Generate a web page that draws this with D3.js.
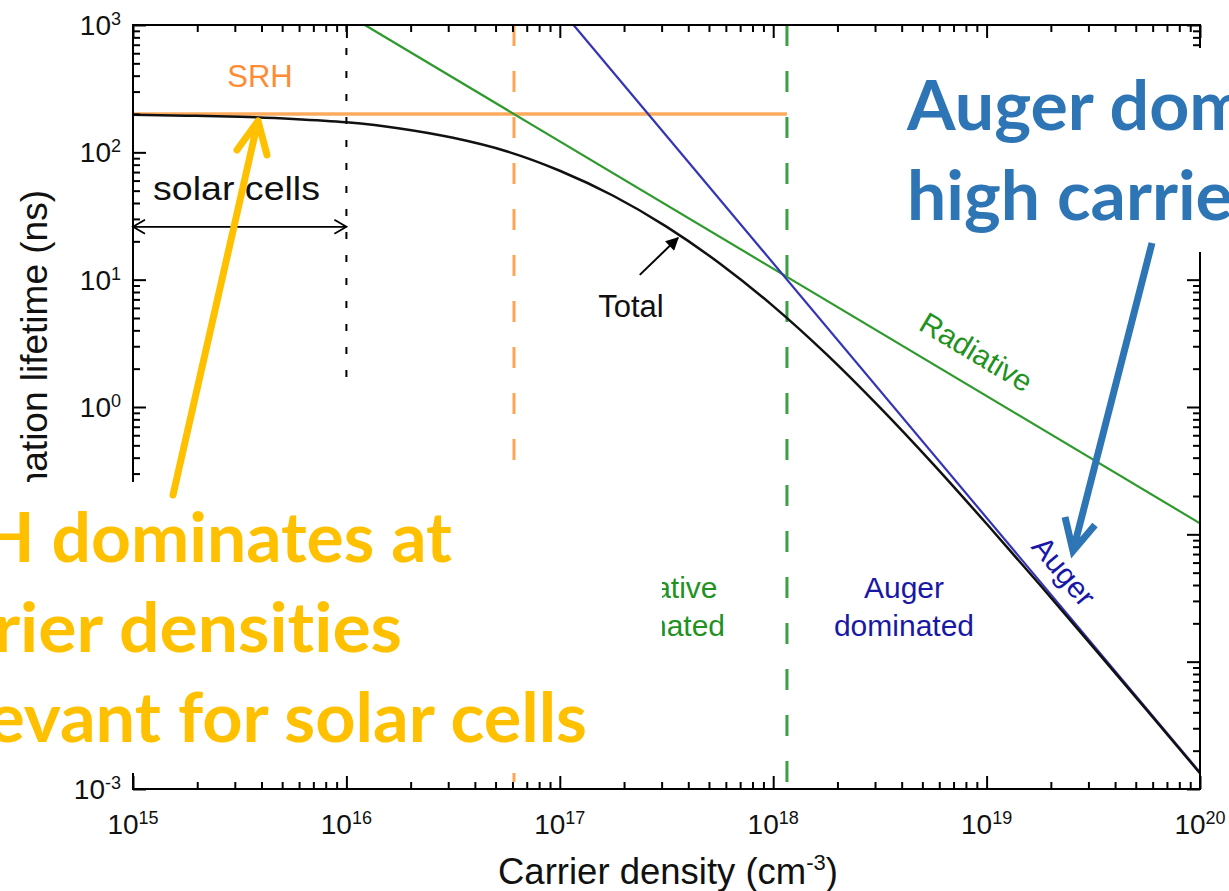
<!DOCTYPE html>
<html>
<head>
<meta charset="utf-8">
<script src="https://d3js.org/d3.v7.min.js"></script>
<style>
  body { margin: 0; background: #fff; overflow: hidden; }
  svg { display: block; }
  .axis line { stroke: #000; stroke-width: 2; }
  .axis .domain { display: none; }
  .lbl { font-family: "Liberation Sans", Arial, Helvetica, sans-serif; }
  .big { font-family: Lato, "Open Sans", sans-serif; font-weight: 700; font-variant-ligatures: none; }
</style>
</head>
<body>
<script>
// ---- values ----
var xDecades = [1e15, 1e16, 1e17, 1e18, 1e19, 1e20];
var xPowers  = ["15", "16", "17", "18", "19", "20"];
var yDecades = [1e-3, 1e-2, 1e-1, 1e0, 1e1, 1e2, 1e3];
var yPowers  = ["-3", "-2", "-1", "0", "1", "2", "3"];

// lifetimes in ns vs carrier density in cm^-3
var srhDensity = [1e15, 1.16e18];
var srhLifetime = [200, 200];
var radDensity = [1.22e16, 1e20];
var radLifetime = [1000, 0.122];
var augerDensity = [1.16e17, 1e20];
var augerLifetime = [1000, 0.00135];
var totalDensity = [1e15, 1.78e15, 3.16e15, 5.62e15, 1e16, 1.78e16, 3.16e16, 5.62e16,
  1e17, 1.78e17, 3.16e17, 5.62e17, 1e18, 1.78e18, 3.16e18, 5.62e18,
  1e19, 1.78e19, 3.16e19, 5.62e19, 1e20];
var totalLifetime = [197, 194, 190, 183, 172, 154, 130, 102,
  71.7, 45.6, 26.1, 13.4, 6.2, 2.59, 0.993, 0.356,
  0.121, 0.040, 0.0130, 0.00418, 0.00133];

// regime boundaries
var srhRadCross = 6.1e16;     // orange dashed
var radAugerCross = 1.16e18;  // green dashed
var solarLimit = 1e16;        // black dotted
var solarLimitLow = 1.5;      // dotted line stops here (ns)
var solarArrowLifetime = 26;
var totalPointer = [[2.37e17, 10.9], [3.58e17, 21.3]];

// ---- layout ----
var W = 1229, H = 891;
var L = 133, R = 1200, T = 25, B = 789;

var svg = d3.select("body").append("svg")
  .attr("width", W).attr("height", H);

var x = d3.scaleLog().domain([1e15, 1e20]).range([L, R]);
var y = d3.scaleLog().domain([1e-3, 1e3]).range([B, T]);

var defs = svg.append("defs");
defs.append("marker").attr("id", "tri")
  .attr("viewBox", "0 0 10 10").attr("refX", 9).attr("refY", 5)
  .attr("markerUnits", "userSpaceOnUse").attr("orient", "auto")
  .attr("markerWidth", 20).attr("markerHeight", 13)
  .append("path").attr("d", "M0,0 L10,5 L0,10 z").attr("fill", "#000");

var line = d3.line().x(function(d) { return x(d[0]); }).y(function(d) { return y(d[1]); });
function pairs(a, b) { return a.map(function(v, i) { return [v, b[i]]; }); }

// boundary lines
svg.append("line")
  .attr("x1", x(srhRadCross)).attr("x2", x(srhRadCross)).attr("y1", y(1e3)).attr("y2", y(1e-3))
  .attr("stroke", "#ffa552").attr("stroke-width", 3).attr("stroke-dasharray", "21,25");
svg.append("line")
  .attr("x1", x(radAugerCross)).attr("x2", x(radAugerCross)).attr("y1", y(1e3)).attr("y2", y(1e-3))
  .attr("stroke", "#3aa043").attr("stroke-width", 3).attr("stroke-dasharray", "21,25");
svg.append("line")
  .attr("x1", x(solarLimit)).attr("x2", x(solarLimit)).attr("y1", y(1e3)).attr("y2", y(solarLimitLow))
  .attr("stroke", "#000").attr("stroke-width", 2).attr("stroke-dasharray", "7,16");

// curves
svg.append("path").datum(pairs(srhDensity, srhLifetime)).attr("d", line)
  .attr("fill", "none").attr("stroke", "#ffab5e").attr("stroke-width", 3.5);
svg.append("path").datum(pairs(radDensity, radLifetime)).attr("d", line)
  .attr("fill", "none").attr("stroke", "#2e9a2e").attr("stroke-width", 2.2);
svg.append("path").datum(pairs(augerDensity, augerLifetime)).attr("d", line)
  .attr("fill", "none").attr("stroke", "#3434b4").attr("stroke-width", 2.2);
svg.append("path").datum(pairs(totalDensity, totalLifetime))
  .attr("d", line.curve(d3.curveMonotoneX))
  .attr("fill", "none").attr("stroke", "#111").attr("stroke-width", 2.5);
line.curve(d3.curveLinear);

// axes (ticks inward on all four sides)
var xMinor = x.ticks().filter(function(v) { return xDecades.indexOf(v) < 0; });
var yMinor = y.ticks().filter(function(v) {
  return yDecades.filter(function(d) { return Math.abs(d - v) / d < 1e-9; }).length === 0;
});

[
  [d3.axisBottom, "translate(0," + B + ")", x, xDecades, xMinor],
  [d3.axisTop, "translate(0," + T + ")", x, xDecades, xMinor],
  [d3.axisLeft, "translate(" + L + ",0)", y, yDecades, yMinor],
  [d3.axisRight, "translate(" + R + ",0)", y, yDecades, yMinor]
].forEach(function(a) {
  svg.append("g").attr("class", "axis").attr("transform", a[1])
    .call(a[0](a[2]).tickValues(a[3]).tickSize(-13).tickSizeOuter(0).tickFormat(""));
  svg.append("g").attr("class", "axis").attr("transform", a[1])
    .call(a[0](a[2]).tickValues(a[4]).tickSize(-7).tickSizeOuter(0).tickFormat(""));
});
svg.append("rect").attr("x", L).attr("y", T).attr("width", R - L).attr("height", B - T)
  .attr("fill", "none").attr("stroke", "#000").attr("stroke-width", 2);

// tick labels
svg.append("g").attr("class", "lbl").selectAll("text").data(xDecades).join("text")
  .attr("x", function(d) { return x(d); }).attr("y", 834)
  .attr("text-anchor", "middle").attr("font-size", 28).attr("fill", "#111")
  .each(function(d, i) {
    var t = d3.select(this);
    t.append("tspan").text("10");
    t.append("tspan").attr("dy", -10).attr("font-size", 18).text(xPowers[i]);
  });
svg.append("g").attr("class", "lbl").selectAll("text").data(yDecades).join("text")
  .attr("x", 121).attr("y", function(d) { return y(d) + 10; })
  .attr("text-anchor", "end").attr("font-size", 28).attr("fill", "#111")
  .each(function(d, i) {
    var t = d3.select(this);
    t.append("tspan").text("10");
    t.append("tspan").attr("dy", -10).attr("font-size", 18).text(yPowers[i]);
  });

// axis titles
var xt = svg.append("text").attr("class", "lbl")
  .attr("x", 668).attr("y", 884).attr("text-anchor", "middle")
  .attr("font-size", 36.5).attr("fill", "#111");
xt.append("tspan").text("Carrier density (cm");
xt.append("tspan").attr("dy", -14).attr("font-size", 22).text("-3");
xt.append("tspan").attr("dy", 14).text(")");

svg.append("text").attr("class", "lbl")
  .attr("transform", "translate(47,190) rotate(-90)")
  .attr("text-anchor", "end").attr("font-size", 37).attr("fill", "#111")
  .text("Recombination lifetime (ns)");

// in-chart labels
svg.append("text").attr("class", "lbl").attr("x", 260).attr("y", 87)
  .attr("text-anchor", "middle").attr("font-size", 31).attr("fill", "#ff8c35").text("SRH");

svg.append("text").attr("class", "lbl").attr("x", 153).attr("y", 200)
  .attr("font-size", 34).attr("fill", "#111")
  .attr("textLength", 167).attr("lengthAdjust", "spacingAndGlyphs").text("solar cells");

var ya = y(solarArrowLifetime), xa0 = x(1e15), xa1 = x(solarLimit);
svg.append("line").attr("x1", xa0).attr("x2", xa1).attr("y1", ya).attr("y2", ya)
  .attr("stroke", "#000").attr("stroke-width", 1.8);
svg.append("path")
  .attr("d", "M" + (xa0 + 12) + "," + (ya - 7) + "L" + xa0 + "," + ya + "L" + (xa0 + 12) + "," + (ya + 7) +
             "M" + (xa1 - 12) + "," + (ya - 7) + "L" + xa1 + "," + ya + "L" + (xa1 - 12) + "," + (ya + 7))
  .attr("fill", "none").attr("stroke", "#000").attr("stroke-width", 1.8);

svg.append("text").attr("class", "lbl").attr("x", 631).attr("y", 317)
  .attr("text-anchor", "middle").attr("font-size", 31).attr("fill", "#111").text("Total");
svg.append("line")
  .attr("x1", x(totalPointer[0][0])).attr("y1", y(totalPointer[0][1]))
  .attr("x2", x(totalPointer[1][0])).attr("y2", y(totalPointer[1][1]))
  .attr("stroke", "#000").attr("stroke-width", 2).attr("marker-end", "url(#tri)");

svg.append("text").attr("class", "lbl")
  .attr("transform", "translate(971,361) rotate(30.85)")
  .attr("text-anchor", "middle").attr("font-size", 30).attr("fill", "#1f921f").text("Radiative");
svg.append("text").attr("class", "lbl")
  .attr("transform", "translate(1056,578) rotate(50.1)")
  .attr("text-anchor", "middle").attr("font-size", 30).attr("fill", "#1818a6").text("Auger");

var rd = svg.append("text").attr("class", "lbl").attr("text-anchor", "middle")
  .attr("font-size", 30).attr("fill", "#1f921f");
rd.append("tspan").attr("x", 655).attr("y", 598).text("Radiative");
rd.append("tspan").attr("x", 655).attr("y", 636).text("dominated");
var ad = svg.append("text").attr("class", "lbl").attr("text-anchor", "middle")
  .attr("font-size", 30).attr("fill", "#1818a6");
ad.append("tspan").attr("x", 904).attr("y", 598).text("Auger");
ad.append("tspan").attr("x", 904).attr("y", 636).text("dominated");

// ---- overlaid callouts ----
svg.append("rect").attr("x", 0).attr("y", 482).attr("width", 662).attr("height", 291).attr("fill", "#fff");
svg.append("rect").attr("x", 900).attr("y", 48).attr("width", 329).attr("height", 204).attr("fill", "#fff");

var orangeLines = ["SRH dominates at", "carrier densities", "relevant for solar cells"];
var orangeStarts = [-102, -104, -93];
var orangeWidths = [554, 506, 680];
var blueLines = ["Auger dominates at", "high carrier densities"];
var blueWidths = [605, 643];

svg.append("g").selectAll("text").data(orangeLines).join("text")
  .attr("class", "big").attr("x", function(d, i) { return orangeStarts[i]; })
  .attr("y", function(d, i) { return 562 + i * 90; })
  .attr("font-size", 68).attr("fill", "#ffc000")
  .attr("textLength", function(d, i) { return orangeWidths[i]; })
  .attr("lengthAdjust", "spacingAndGlyphs")
  .text(function(d) { return d; });
svg.append("g").selectAll("text").data(blueLines).join("text")
  .attr("class", "big").attr("x", 907).attr("y", function(d, i) { return 130 + i * 90; })
  .attr("font-size", 68).attr("fill", "#2e75b6")
  .attr("textLength", function(d, i) { return blueWidths[i]; })
  .attr("lengthAdjust", "spacingAndGlyphs")
  .text(function(d) { return d; });

svg.append("path").attr("d", "M173,495L258,121M237,150L258,121L267,155")
  .attr("fill", "none").attr("stroke", "#ffc000").attr("stroke-width", 7)
  .attr("stroke-linecap", "round").attr("stroke-linejoin", "round");
svg.append("path").attr("d", "M1152,243L1073,551M1065,517L1073,551L1095,525")
  .attr("fill", "none").attr("stroke", "#2e75b6").attr("stroke-width", 7)
  .attr("stroke-linecap", "butt").attr("stroke-linejoin", "miter");
</script>
</body>
</html>
